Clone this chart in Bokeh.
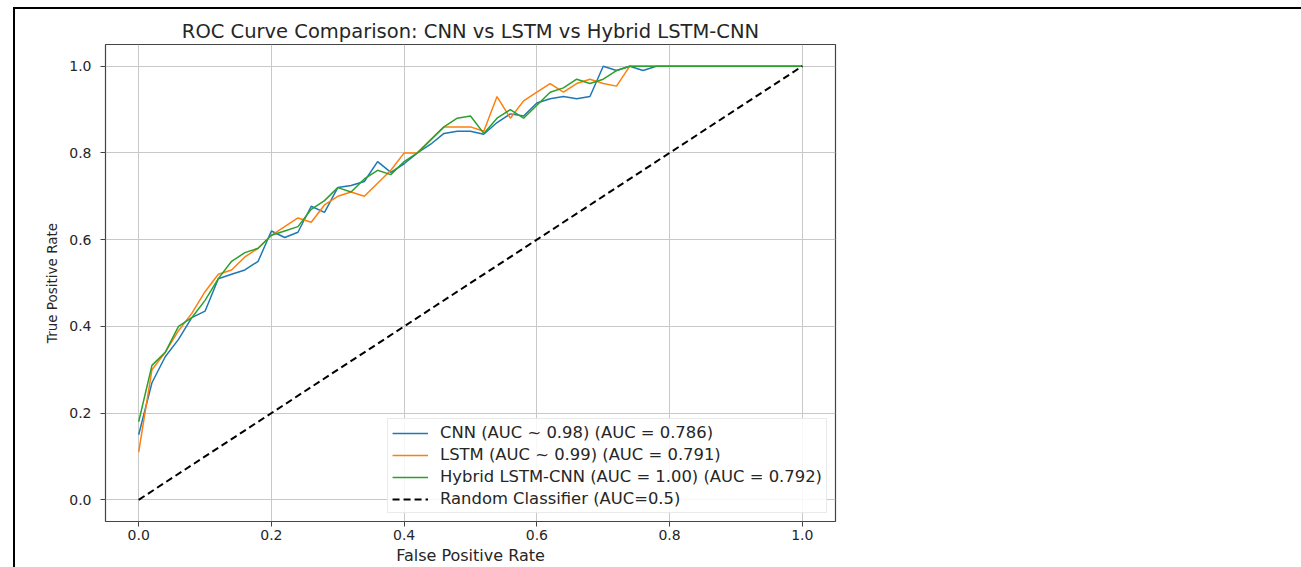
from bokeh.plotting import figure
from bokeh.models import Range1d, Legend, LegendItem, FixedTicker, PrintfTickFormatter
from bokeh.embed import file_html
from bokeh.resources import INLINE

title_text = "ROC Curve Comparison: CNN vs LSTM vs Hybrid LSTM-CNN"
x_label = "False Positive Rate"
y_label = "True Positive Rate"
tick_values = [0.0, 0.2, 0.4, 0.6, 0.8, 1.0]

fpr = [0.00, 0.02, 0.04, 0.06, 0.08, 0.10, 0.12, 0.14, 0.16, 0.18,
       0.20, 0.22, 0.24, 0.26, 0.28, 0.30, 0.32, 0.34, 0.36, 0.38,
       0.40, 0.42, 0.44, 0.46, 0.48, 0.50, 0.52, 0.54, 0.56, 0.58,
       0.60, 0.62, 0.64, 0.66, 0.68, 0.70, 0.72, 0.74, 0.76, 0.78, 1.00]

tpr_cnn = [0.15, 0.27, 0.33, 0.37, 0.42, 0.435, 0.51, 0.52, 0.53, 0.55,
           0.62, 0.605, 0.617, 0.677, 0.663, 0.72, 0.725, 0.734, 0.78, 0.755,
           0.775, 0.80, 0.82, 0.845, 0.85, 0.85, 0.843, 0.87, 0.89, 0.885,
           0.915, 0.925, 0.93, 0.925, 0.93, 1.00, 0.99, 1.00, 0.99, 1.00, 1.00]

tpr_lstm = [0.11, 0.30, 0.34, 0.39, 0.43, 0.48, 0.52, 0.53, 0.56, 0.58,
            0.61, 0.63, 0.65, 0.64, 0.68, 0.70, 0.71, 0.70, 0.73, 0.76,
            0.80, 0.80, 0.83, 0.86, 0.86, 0.86, 0.85, 0.93, 0.88, 0.92,
            0.94, 0.96, 0.94, 0.96, 0.97, 0.96, 0.954, 1.00, 1.00, 1.00, 1.00]

tpr_hybrid = [0.18, 0.31, 0.34, 0.40, 0.42, 0.46, 0.51, 0.55, 0.57, 0.58,
              0.61, 0.62, 0.63, 0.67, 0.69, 0.72, 0.71, 0.74, 0.76, 0.75,
              0.78, 0.80, 0.83, 0.86, 0.88, 0.885, 0.845, 0.88, 0.90, 0.88,
              0.91, 0.94, 0.95, 0.97, 0.96, 0.97, 0.99, 1.00, 1.00, 1.00, 1.00]

random_x = [0.0, 1.0]
random_y = [0.0, 1.0]

labels = ["CNN (AUC ~ 0.98) (AUC = 0.786)",
          "LSTM (AUC ~ 0.99) (AUC = 0.791)",
          "Hybrid LSTM-CNN (AUC = 1.00) (AUC = 0.792)",
          "Random Classifier (AUC=0.5)"]
colors = ["#1f77b4", "#ff7f0e", "#2ca02c"]

FONT = "DejaVu Sans"
TXT = "#262626"

p = figure(width=1301, height=567, output_backend="svg", toolbar_location=None,
           x_range=Range1d(-0.05, 1.05), y_range=Range1d(-0.05, 1.05),
           min_border_left=105, min_border_right=466, min_border_top=44,
           min_border_bottom=46, border_fill_color="white",
           background_fill_color="white")

p.title.text = title_text
p.title.align = "center"
p.title.text_font = FONT
p.title.text_font_size = "19.5px"
p.title.text_font_style = "normal"
p.title.text_color = TXT
p.title.standoff = 4

p.outline_line_color = "#444444"
p.outline_line_width = 1.2

for ax in (p.xaxis[0], p.yaxis[0]):
    ax.ticker = FixedTicker(ticks=tick_values)
    ax.formatter = PrintfTickFormatter(format="%.1f")
    ax.minor_tick_line_color = None
    ax.major_tick_out = 5
    ax.major_tick_in = 0
    ax.major_tick_line_color = "#444444"
    ax.axis_line_color = None
    ax.major_label_text_font = FONT
    ax.major_label_text_font_size = "14px"
    ax.major_label_text_color = TXT
    ax.axis_label_text_font = FONT
    ax.axis_label_text_font_style = "normal"
    ax.axis_label_text_color = TXT

p.xaxis.axis_label = x_label
p.yaxis.axis_label = y_label
p.xaxis.axis_label_text_font_size = "16px"
p.yaxis.axis_label_text_font_size = "13.5px"
p.xaxis.major_label_standoff = 3
p.yaxis.major_label_standoff = 9
p.xaxis.axis_label_standoff = 3
p.yaxis.axis_label_standoff = 6

p.grid.ticker = FixedTicker(ticks=tick_values)
p.grid.grid_line_color = "#c8c8c8"
p.grid.grid_line_width = 1

r1 = p.line(fpr, tpr_cnn, line_color=colors[0], line_width=1.5)
r2 = p.line(fpr, tpr_lstm, line_color=colors[1], line_width=1.5)
r3 = p.line(fpr, tpr_hybrid, line_color=colors[2], line_width=1.5)
r4 = p.line(random_x, random_y, line_color="black", line_width=2, line_dash="7 4")

legend = Legend(items=[LegendItem(label=labels[0], renderers=[r1]),
                       LegendItem(label=labels[1], renderers=[r2]),
                       LegendItem(label=labels[2], renderers=[r3]),
                       LegendItem(label=labels[3], renderers=[r4])],
                location="bottom_right")
legend.label_text_font = FONT
legend.label_text_font_size = "16.4px"
legend.label_text_color = TXT
legend.glyph_width = 36
legend.glyph_height = 16
legend.label_height = 16
legend.spacing = 3
legend.label_standoff = 12
legend.padding = 4
legend.margin = 8
legend.border_line_color = "#d5d5d5"
legend.border_line_width = 1
legend.background_fill_alpha = 0.85
p.add_layout(legend, "center")

html = file_html(p, INLINE)
# thin black edge of the picture (top and left) as a page overlay
edge = ('<div style="position:fixed;left:13px;top:7px;width:1288px;height:570px;'
        'border-top:2px solid #000;border-left:2px solid #000;'
        'pointer-events:none;z-index:10;"></div>')
html = html.replace("<head>", "<head><style>html,body{margin:0;padding:0;overflow:hidden;}</style>", 1)
html = html.replace("</body>", edge + "</body>", 1)
open("out.html", "w").write(html)
